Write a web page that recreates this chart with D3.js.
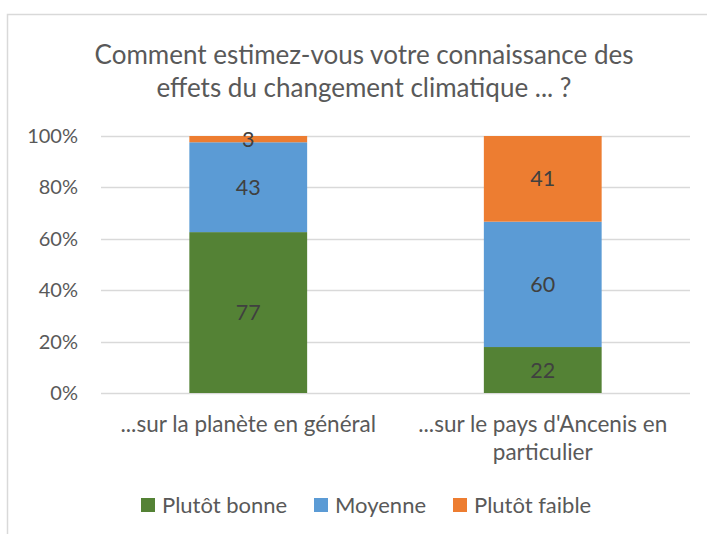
<!DOCTYPE html>
<html>
<head>
<meta charset="utf-8">
<script src="https://cdn.jsdelivr.net/npm/d3@7"></script>
<style>
  body { margin: 0; background: #fff; }
  text { font-family: Lato, "Open Sans", sans-serif; }
</style>
</head>
<body>
<div id="chart"></div>
<script>
const categories = ["...sur la planète en général", "...sur le pays d'Ancenis en particulier"];
const series = ["Plutôt bonne", "Moyenne", "Plutôt faible"];
const colors = ["#548235", "#5b9bd5", "#ed7d31"];
const bonne = [77, 22];
const moyenne = [43, 60];
const faible = [3, 41];
const ticks = [0, 0.2, 0.4, 0.6, 0.8, 1];

const width = 707, height = 534;
const margin = { left: 101, right: 17, top: 136, bottom: 141 };

const svg = d3.select("#chart").append("svg")
  .attr("width", width)
  .attr("height", height);

// chart frame
svg.append("path")
  .attr("d", `M7.5,${height} V14.5 H${width}`)
  .attr("fill", "none")
  .attr("stroke", "#d9d9d9")
  .attr("stroke-width", 1.5);

const x = d3.scaleBand()
  .domain(categories)
  .range([margin.left, width - margin.right])
  .paddingInner(0.6)
  .paddingOuter(0.3);

const y = d3.scaleLinear()
  .domain([0, 1])
  .range([height - margin.bottom, margin.top]);

// gridlines
svg.append("g")
  .selectAll("line")
  .data(ticks)
  .join("line")
  .attr("x1", margin.left)
  .attr("x2", width - margin.right)
  .attr("y1", d => Math.round(y(d)) + 0.5)
  .attr("y2", d => Math.round(y(d)) + 0.5)
  .attr("stroke", "#d9d9d9")
  .attr("stroke-width", 1.3);

svg.append("g")
  .selectAll("text")
  .data(ticks)
  .join("text")
  .attr("x", 78)
  .attr("y", d => y(d) + 7)
  .attr("text-anchor", "end")
  .attr("font-size", 20)
  .attr("fill", "#595959")
  .text(d => d3.format(".0%")(d));

// stacked data
const rows = categories.map((c, i) => ({
  cat: c, "Plutôt bonne": bonne[i], "Moyenne": moyenne[i], "Plutôt faible": faible[i]
}));
const stacked = d3.stack().keys(series).offset(d3.stackOffsetExpand)(rows);

const layers = svg.append("g")
  .selectAll("g")
  .data(stacked)
  .join("g")
  .attr("fill", (d, i) => colors[i]);

layers.selectAll("rect")
  .data(d => d)
  .join("rect")
  .attr("x", d => x(d.data.cat))
  .attr("width", x.bandwidth())
  .attr("y", d => y(d[1]))
  .attr("height", d => y(d[0]) - y(d[1]));

layers.selectAll("text")
  .data(d => d.map(v => ({ v, key: d.key })))
  .join("text")
  .attr("x", d => x(d.v.data.cat) + x.bandwidth() / 2)
  .attr("y", d => (y(d.v[0]) + y(d.v[1])) / 2 + 7.5)
  .attr("text-anchor", "middle")
  .attr("font-size", 21.5)
  .attr("fill", "#404040")
  .text(d => d.v.data[d.key]);

// category labels
const catLines = [["...sur la planète en général"], ["...sur le pays d'Ancenis en", "particulier"]];
svg.append("g")
  .selectAll("text")
  .data(categories)
  .join("text")
  .attr("x", d => x(d) + x.bandwidth() / 2)
  .attr("y", 432)
  .attr("text-anchor", "middle")
  .attr("font-size", 22.5)
  .attr("fill", "#595959")
  .each(function(d, i) {
    d3.select(this).selectAll("tspan")
      .data(catLines[i])
      .join("tspan")
      .attr("x", x(d) + x.bandwidth() / 2)
      .attr("dy", (t, j) => j === 0 ? 0 : 28)
      .text(t => t);
  });

// title
svg.append("text")
  .attr("x", 364)
  .attr("text-anchor", "middle")
  .attr("font-size", 26)
  .attr("fill", "#595959")
  .selectAll("tspan")
  .data(["Comment estimez-vous votre connaissance des", "effets du changement climatique ... ?"])
  .join("tspan")
  .attr("x", 364)
  .attr("y", (d, i) => 64 + i * 33)
  .text(d => d);

// legend
const legendX = [141, 314, 453];
const legend = svg.append("g")
  .selectAll("g")
  .data(series)
  .join("g")
  .attr("transform", (d, i) => `translate(${legendX[i]},498)`);
legend.append("rect")
  .attr("width", 14)
  .attr("height", 14)
  .attr("fill", (d, i) => colors[i]);
legend.append("text")
  .attr("x", 21)
  .attr("y", 15)
  .attr("font-size", 22)
  .attr("fill", "#595959")
  .text(d => d);
</script>
</body>
</html>
